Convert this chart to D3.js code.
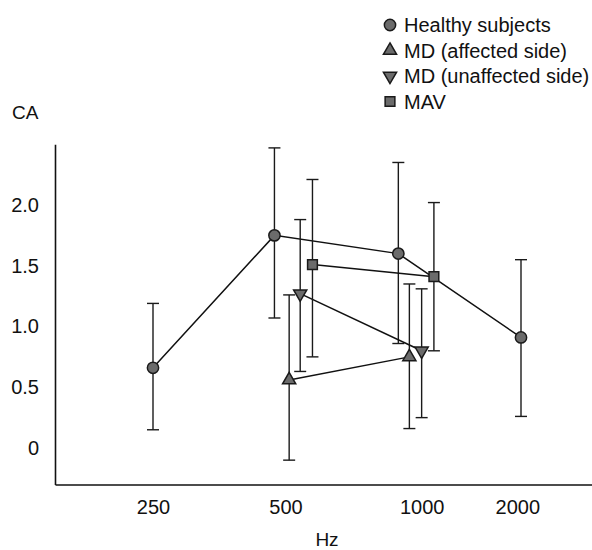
<!DOCTYPE html>
<html>
<head>
<meta charset="utf-8">
<script src="https://cdn.jsdelivr.net/npm/d3@7"></script>
<style>
    body { margin: 0; background: #fff; }
    text { font-family: "Liberation Sans", Arial, sans-serif; fill: #111; }
</style>
</head>
<body>
<div id="chart"></div>
<script>
const WIDTH = 592
const HEIGHT = 550

// Frequency categories, placed on an octave axis (0 = 250 Hz)
const freqLabels = ['250', '500', '1000', '2000']
const freqLabelPos = [0, 1.08, 2.19, 2.97]
const yTicks = [0, 0.5, 1.0, 1.5, 2.0]

// Healthy subjects
const healthyPos = [0, 0.99, 2.0, 3.0]
const healthyMean = [0.66, 1.75, 1.60, 0.91]
const healthyLow = [0.15, 1.07, 0.86, 0.26]
const healthyHigh = [1.19, 2.47, 2.35, 1.55]

// MD (affected side)
const affectedPos = [1.11, 2.09]
const affectedMean = [0.56, 0.75]
const affectedLow = [-0.10, 0.16]
const affectedHigh = [1.26, 1.35]

// MD (unaffected side)
const unaffectedPos = [1.20, 2.19]
const unaffectedMean = [1.27, 0.80]
const unaffectedLow = [0.63, 0.25]
const unaffectedHigh = [1.88, 1.31]

// MAV
const mavPos = [1.30, 2.29]
const mavMean = [1.51, 1.41]
const mavLow = [0.75, 0.80]
const mavHigh = [2.21, 2.02]

const series = [
    { name: 'Healthy subjects', symbol: 'circle', pos: healthyPos, mean: healthyMean, low: healthyLow, high: healthyHigh },
    { name: 'MD (affected side)', symbol: 'up', pos: affectedPos, mean: affectedMean, low: affectedLow, high: affectedHigh },
    { name: 'MD (unaffected side)', symbol: 'down', pos: unaffectedPos, mean: unaffectedMean, low: unaffectedLow, high: unaffectedHigh },
    { name: 'MAV', symbol: 'square', pos: mavPos, mean: mavMean, low: mavLow, high: mavHigh }
]

const MARKER_FILL = '#6b6b6b'
const MARKER_STROKE = '#1a1a1a'
const CAP = 6

const svg = d3.select('#chart')
    .append('svg')
    .attr('width', WIDTH)
    .attr('height', HEIGHT)

const x = d3.scaleLinear().domain([0, 3]).range([153, 521])
const y = d3.scaleLinear().domain([0, 2]).range([448, 205])

// Axes: no tick marks, only labels
const xAxisScale = x.copy().domain([x.invert(55), x.invert(592)]).range([55, 592])
const yAxisScale = y.copy().domain([-0.30, 2.50]).range([y(-0.30), y(2.50)])

const xAxis = svg.append('g')
    .attr('transform', `translate(0,${yAxisScale(-0.30)})`)
    .call(d3.axisBottom(xAxisScale)
        .tickValues(freqLabelPos)
        .tickFormat((d, i) => freqLabels[i])
        .tickSize(0)
        .tickPadding(15))
xAxis.select('.domain').attr('stroke', '#111').attr('stroke-width', 1.6)
xAxis.selectAll('text').style('font-size', '20px')

const yAxis = svg.append('g')
    .attr('transform', 'translate(55,0)')
    .call(d3.axisLeft(yAxisScale)
        .tickValues(yTicks)
        .tickFormat(d => d === 0 ? '0' : d3.format('.1f')(d))
        .tickSize(0)
        .tickPadding(16))
yAxis.select('.domain').attr('stroke', '#111').attr('stroke-width', 1.6)
yAxis.selectAll('text').style('font-size', '20px')

svg.append('text')
    .attr('x', 12)
    .attr('y', 119)
    .style('font-size', '19px')
    .text('CA')

svg.append('text')
    .attr('x', 327)
    .attr('y', 546)
    .attr('text-anchor', 'middle')
    .style('font-size', '19px')
    .text('Hz')

function symbolPath(kind) {
    if (kind === 'circle') return d3.symbol(d3.symbolCircle, 100)()
    if (kind === 'square') return d3.symbol(d3.symbolSquare, 95)()
    return d3.symbol(d3.symbolTriangle, 75)()
}

function drawMarker(g, kind, cx, cy) {
    const rot = kind === 'down' ? 180 : 0
    g.append('path')
        .attr('d', symbolPath(kind))
        .attr('transform', `translate(${cx},${cy}) rotate(${rot})`)
        .attr('fill', MARKER_FILL)
        .attr('stroke', MARKER_STROKE)
        .attr('stroke-width', 1.5)
}

const line = d3.line()
    .x(d => x(d[0]))
    .y(d => y(d[1]))

// Error bars first, then the connecting lines, then the markers
series.forEach(s => {
    const g = svg.append('g').attr('class', 'series')
    const pts = s.pos.map((p, i) => ({ p, m: s.mean[i], lo: s.low[i], hi: s.high[i] }))

    const bars = g.selectAll('.err')
        .data(pts)
        .enter()
        .append('g')
        .attr('class', 'err')
        .attr('stroke', '#1a1a1a')
        .attr('stroke-width', 1.4)

    bars.append('line')
        .attr('x1', d => x(d.p)).attr('x2', d => x(d.p))
        .attr('y1', d => y(d.lo)).attr('y2', d => y(d.hi))
    bars.append('line')
        .attr('x1', d => x(d.p) - CAP).attr('x2', d => x(d.p) + CAP)
        .attr('y1', d => y(d.hi)).attr('y2', d => y(d.hi))
    bars.append('line')
        .attr('x1', d => x(d.p) - CAP).attr('x2', d => x(d.p) + CAP)
        .attr('y1', d => y(d.lo)).attr('y2', d => y(d.lo))

    g.append('path')
        .attr('d', line(pts.map(d => [d.p, d.m])))
        .attr('fill', 'none')
        .attr('stroke', '#111')
        .attr('stroke-width', 1.5)
})

series.forEach(s => {
    const g = svg.append('g').attr('class', 'markers')
    s.pos.forEach((p, i) => drawMarker(g, s.symbol, x(p), y(s.mean[i])))
})

// Legend
const legend = svg.append('g').attr('transform', 'translate(390,25)')
series.forEach((s, i) => {
    const row = legend.append('g').attr('transform', `translate(0,${i * 25.5})`)
    drawMarker(row, s.symbol, 0, 0)
    row.append('text')
        .attr('x', 14)
        .attr('y', 7)
        .style('font-size', '20px')
        .text(s.name)
})
</script>
</body>
</html>
